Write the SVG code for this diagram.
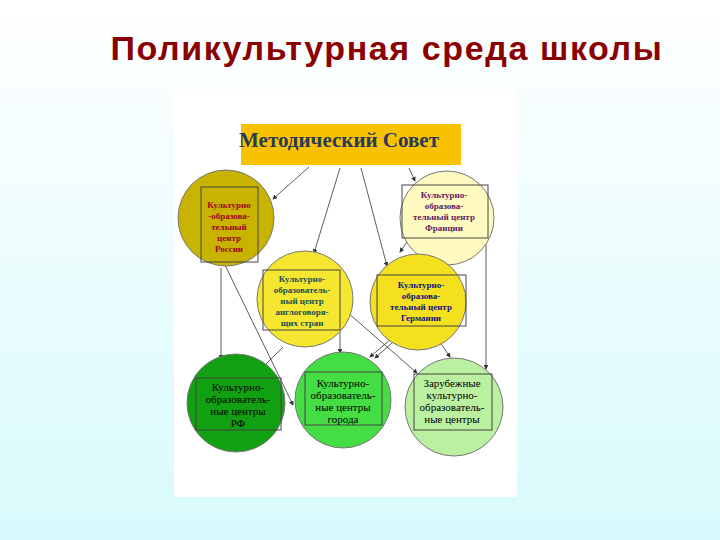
<svg xmlns="http://www.w3.org/2000/svg" width="720" height="540" viewBox="0 0 720 540">
<defs>
<linearGradient id="bg" x1="0" y1="0" x2="0" y2="1"><stop offset="0" stop-color="#ffffff"/><stop offset="1" stop-color="#d8fafc"/></linearGradient>
<marker id="ar" markerWidth="6" markerHeight="6" refX="5" refY="3" orient="auto"><path d="M0,0 L6,3 L0,6 z" fill="#333"/></marker>
<style>
.c{stroke:#777;stroke-width:1}
.r{fill:none;stroke:#444;stroke-width:1}
.t{font-family:"Liberation Serif",serif;font-size:9px;font-weight:bold;text-anchor:middle}
.t2{font-family:"Liberation Serif",serif;font-size:11px;text-anchor:middle}
.l{stroke:#333;stroke-width:0.8;fill:none;marker-end:url(#ar)}
</style>
</defs>
<rect width="720" height="540" fill="url(#bg)"/>
<text x="387" y="60" font-family="Liberation Sans,sans-serif" font-size="34" font-weight="bold" letter-spacing="1.6" fill="#8b0000" text-anchor="middle">Поликультурная среда школы</text>
<rect x="174" y="90" width="343" height="407" fill="#fff"/>
<g id="connectors">
<path class="l" d="M309,167 L273,199"/>
<path class="l" d="M340,168 L314,253"/>
<path class="l" d="M361,168 L387,266"/>
<path class="l" d="M409,168 L415,181"/>
<path class="l" d="M221,268 L221,359"/>
<path class="l" d="M225,265 L293,405"/>
<path class="l" d="M340,330 L340,353"/>
<path class="l" d="M283,347 L262,368"/>
<path class="l" d="M347,312 L417,373"/>
<path class="l" d="M392,338 L370,357"/>
<path class="l" d="M400,336 L375,358"/>
<path class="l" d="M440,342 L450,357"/>
<path class="l" d="M411,236 L400,252"/>
<path class="l" d="M486,238 L486,369"/>
</g>
<g id="sovet"><rect x="241" y="124" width="220" height="41" fill="#f9c200"/><text x="339" y="147" font-family="Liberation Serif,serif" font-size="21" font-weight="bold" fill="#2a3a5a" text-anchor="middle">Методический Совет</text></g>
<g id="russia"><circle class="c" cx="226" cy="218" r="48" fill="#c8b400"/><rect class="r" x="201" y="187" width="57" height="75"/>
<text class="t" fill="#a00020"><tspan x="229" y="208">Культурно</tspan><tspan x="229" y="219">-образова-</tspan><tspan x="229" y="230">тельный</tspan><tspan x="229" y="241">центр</tspan><tspan x="229" y="252">России</tspan></text></g>
<g id="france"><circle class="c" cx="447" cy="218" r="47" fill="#fffbc0"/><rect class="r" x="402" y="185" width="86" height="53"/>
<text class="t" fill="#602060"><tspan x="444" y="198">Культурно-</tspan><tspan x="444" y="209">образова-</tspan><tspan x="444" y="220">тельный центр</tspan><tspan x="444" y="231">Франции</tspan></text></g>
<g id="anglo"><circle class="c" cx="305" cy="299" r="48" fill="#f5e630"/><rect class="r" x="263" y="270" width="77" height="60"/>
<text class="t" fill="#205050"><tspan x="302" y="282">Культурно-</tspan><tspan x="302" y="293">образователь-</tspan><tspan x="302" y="304">ный центр</tspan><tspan x="302" y="315">англоговоря-</tspan><tspan x="302" y="326">щих стран</tspan></text></g>
<g id="germany"><circle class="c" cx="418" cy="302" r="48" fill="#f5e020"/><rect class="r" x="377" y="275" width="89" height="51"/>
<text class="t" fill="#101080"><tspan x="421" y="288">Культурно-</tspan><tspan x="421" y="299">образова-</tspan><tspan x="421" y="310">тельный центр</tspan><tspan x="421" y="321">Германии</tspan></text></g>
<g id="rf"><circle class="c" cx="236" cy="403" r="49" fill="#11a011"/><rect class="r" x="196" y="378" width="85" height="52"/>
<text class="t2" fill="#000"><tspan x="238" y="391">Культурно-</tspan><tspan x="238" y="403">образователь-</tspan><tspan x="238" y="415">ные центры</tspan><tspan x="238" y="427">РФ</tspan></text></g>
<g id="city"><circle class="c" cx="343" cy="400" r="48" fill="#44dd44"/><rect class="r" x="305" y="372" width="77" height="53"/>
<text class="t2" fill="#000"><tspan x="343" y="387">Культурно-</tspan><tspan x="343" y="399">образователь-</tspan><tspan x="343" y="411">ные центры</tspan><tspan x="343" y="423">города</tspan></text></g>
<g id="foreign"><circle class="c" cx="454" cy="407" r="49" fill="#bbf0a0"/><rect class="r" x="414" y="374" width="78" height="56"/>
<text class="t2" fill="#000"><tspan x="452" y="387">Зарубежные</tspan><tspan x="452" y="399">культурно-</tspan><tspan x="452" y="411">образователь-</tspan><tspan x="452" y="423">ные центры</tspan></text></g>
</svg>
